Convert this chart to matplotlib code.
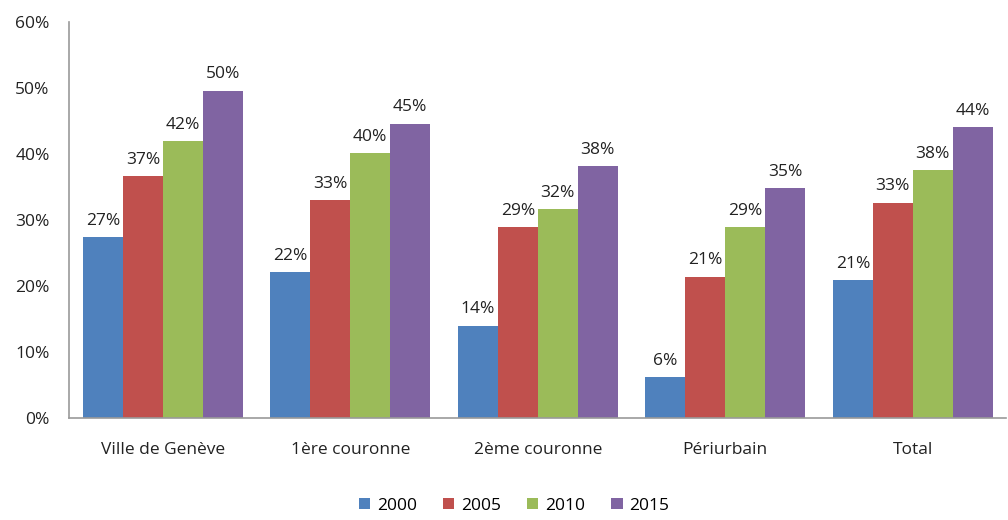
import matplotlib
matplotlib.use("Agg")
import matplotlib.pyplot as plt
import numpy as np

# categories and values (share in %)
categories = ["Ville de Genève", "1ère couronne", "2ème couronne", "Périurbain", "Total"]
years = ["2000", "2005", "2010", "2015"]
v2000 = [27.4, 22.1, 14.0, 6.2, 20.9]
v2005 = [36.6, 33.0, 28.9, 21.4, 32.6]
v2010 = [41.9, 40.1, 31.6, 28.9, 37.5]
v2015 = [49.6, 44.6, 38.1, 34.8, 44.1]
labels2000 = ["27%", "22%", "14%", "6%", "21%"]
labels2005 = ["37%", "33%", "29%", "21%", "33%"]
labels2010 = ["42%", "40%", "32%", "29%", "38%"]
labels2015 = ["50%", "45%", "38%", "35%", "44%"]

series = [v2000, v2005, v2010, v2015]
series_labels = [labels2000, labels2005, labels2010, labels2015]
colors = ["#4F81BD", "#C0504D", "#9BBB59", "#8064A2"]

plt.rcParams['font.family'] = ['Open Sans', 'DejaVu Sans']

fig = plt.figure(figsize=(10.08, 5.2), dpi=100)
ax = fig.add_axes([0.0685, 0.196, 0.93, 0.762])

x = np.arange(len(categories))
w = 0.213
for i, (vals, labs, col, yr) in enumerate(zip(series, series_labels, colors, years)):
    pos = x + (i - 1.5) * w
    bars = ax.bar(pos, vals, width=w, color=col, label=yr)
    for b, lab in zip(bars, labs):
        ax.annotate(lab, (b.get_x() + b.get_width() / 2, b.get_height()),
                    xytext=(0, 6), textcoords="offset points",
                    ha="center", va="bottom", fontsize=12.5, color="#222222")

ax.set_xlim(-0.5, len(categories) - 0.5)
ax.set_ylim(0, 60)
ax.set_yticks(range(0, 61, 10))
ax.set_yticklabels([f"{t}%" for t in range(0, 61, 10)])
ax.set_xticks(x)
ax.set_xticklabels(categories)
ax.tick_params(axis="both", labelsize=12.5, colors="#222222", length=0)
ax.tick_params(axis="x", pad=17)
ax.tick_params(axis="y", pad=14)

for s in ["top", "right"]:
    ax.spines[s].set_visible(False)
for s in ["left", "bottom"]:
    ax.spines[s].set_color("#9a9a9a")
    ax.spines[s].set_linewidth(1.2)

fig.legend(*ax.get_legend_handles_labels(), loc="lower center",
           bbox_to_anchor=(0.51, -0.018), ncol=4, frameon=False,
           fontsize=12.5, handlelength=0.65, handleheight=0.65, handletextpad=0.4,
           columnspacing=1.5)

plt.savefig("out.png", dpi=100)
